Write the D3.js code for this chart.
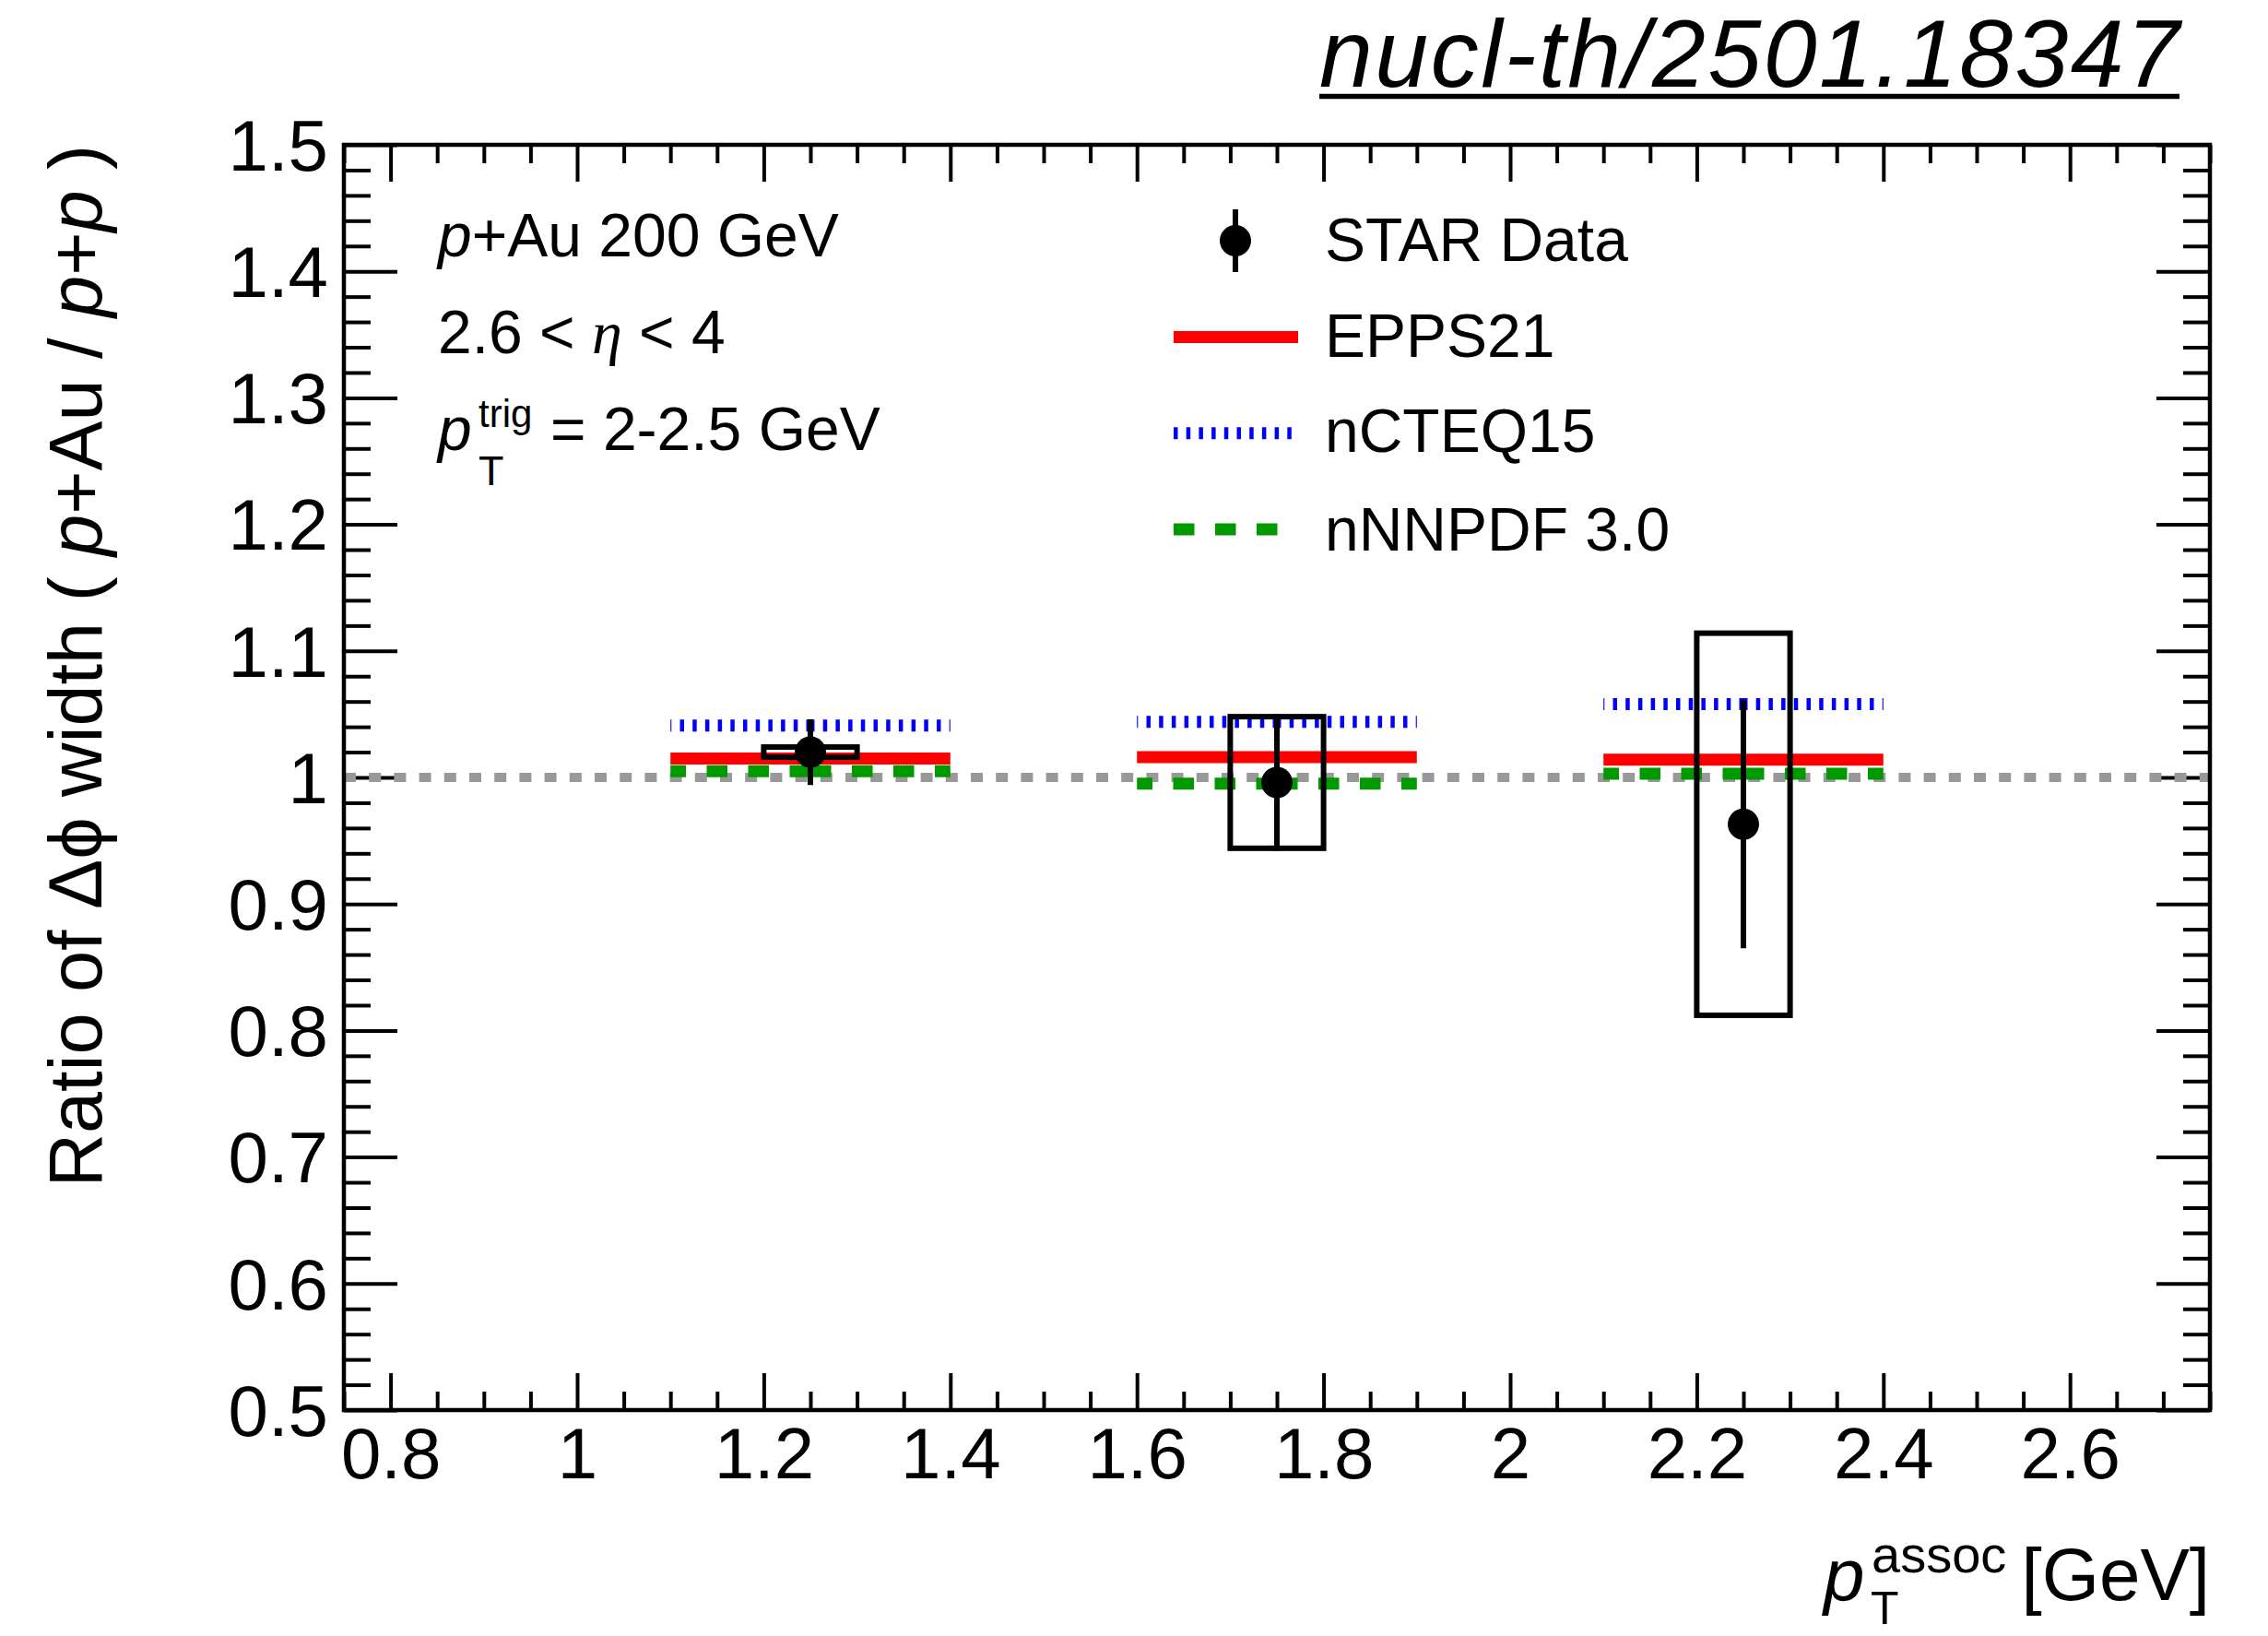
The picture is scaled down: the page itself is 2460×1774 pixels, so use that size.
<!DOCTYPE html>
<html><head><meta charset="utf-8">
<script src="https://cdn.jsdelivr.net/npm/d3@7"></script>
<style>
body{margin:0;background:#fff}
text{font-family:"Liberation Sans",Arial,Helvetica,sans-serif;fill:#000}
</style>
</head><body><svg id="c" width="2460" height="1774"></svg>
<script>
// ---------------- data ----------------
const xCenters   = [1.25, 1.75, 2.25];
const binLo      = [1.10, 1.60, 2.10];
const binHi      = [1.40, 1.90, 2.40];
const starValues = [1.020, 0.996, 0.963];
const statErrors = [0.026, 0.054, 0.098];
const sysErrors  = [0.004, 0.052, 0.151];
const sysHalfWidth = 0.05;
const epps21     = [1.015, 1.016, 1.014];
const ncteq15    = [1.041, 1.044, 1.058];
const nnnpdf30   = [1.005, 0.995, 1.003];
const referenceValue = 1.0;
const xTicks      = [0.8, 1.0, 1.2, 1.4, 1.6, 1.8, 2.0, 2.2, 2.4, 2.6];
const xTickLabels = ["0.8","1","1.2","1.4","1.6","1.8","2","2.2","2.4","2.6"];
const yTicks      = [0.5, 0.6, 0.7, 0.8, 0.9, 1.0, 1.1, 1.2, 1.3, 1.4, 1.5];
const yTickLabels = ["0.5","0.6","0.7","0.8","0.9","1","1.1","1.2","1.3","1.4","1.5"];
const legendLabels = ["STAR Data","EPPS21","nCTEQ15","nNNPDF 3.0"];

// ---------------- layout ----------------
const L=373, R=2397, T=157, B=1529;
const svg = d3.select("#c");
svg.append("rect").attr("width",2460).attr("height",1774).attr("fill","#fff");
const x = d3.scaleLinear().domain([0.75,2.75]).range([L,R]);
const y = d3.scaleLinear().domain([0.5,1.5]).range([B,T]);

const xMinor = d3.range(0,41).map(i=>+(0.75+i*0.05).toFixed(3)).filter(v=>!xTicks.some(t=>Math.abs(t-v)<1e-6));
const yMinor = d3.range(0,51).map(i=>+(0.5+i*0.02).toFixed(3)).filter(v=>!yTicks.some(t=>Math.abs(t-v)<1e-6));

function tickAxis(axisFn, scale, vals, size, tx, ty){
  const g = svg.append("g").attr("transform",`translate(${tx},${ty})`)
    .call(axisFn(scale).tickValues(vals).tickSize(size).tickFormat(""));
  g.select(".domain").remove();
  g.selectAll(".tick line").attr("stroke","#000").attr("stroke-width",4);
}
// bottom / top
tickAxis(d3.axisBottom, x, xTicks, -40, 0, B);
tickAxis(d3.axisBottom, x, xMinor, -20, 0, B);
tickAxis(d3.axisTop, x, xTicks, -40, 0, T);
tickAxis(d3.axisTop, x, xMinor, -20, 0, T);
// left / right
tickAxis(d3.axisLeft, y, yTicks, -58, L, 0);
tickAxis(d3.axisLeft, y, yMinor, -29, L, 0);
tickAxis(d3.axisRight, y, yTicks, -58, R, 0);
tickAxis(d3.axisRight, y, yMinor, -29, R, 0);

// labels
const xl = svg.append("g").attr("transform",`translate(0,${B})`)
  .call(d3.axisBottom(x).tickValues(xTicks).tickSize(0).tickPadding(19).tickFormat((d,i)=>xTickLabels[i]));
xl.select(".domain").remove();
xl.selectAll("text").attr("font-size",78).attr("font-family",'"Liberation Sans",Arial,sans-serif').attr("fill","#000");
const yl = svg.append("g").attr("transform",`translate(${L},0)`)
  .call(d3.axisLeft(y).tickValues(yTicks).tickSize(0).tickPadding(17).tickFormat((d,i)=>yTickLabels[i]));
yl.select(".domain").remove();
yl.selectAll("text").attr("font-size",78).attr("font-family",'"Liberation Sans",Arial,sans-serif').attr("fill","#000").attr("dy","0.35em");

// ---------------- marks ----------------
const plot = svg.append("g");
// reference line
plot.append("line").attr("x1",x(0.75)).attr("x2",x(2.75)).attr("y1",y(referenceValue)).attr("y2",y(referenceValue))
  .attr("stroke","#999").attr("stroke-width",10).attr("stroke-dasharray","13 14.2");

const models = [
  {vals: ncteq15, color:"#0000ff", dash:"4.5 9.2"},
  {vals: epps21,  color:"#ff0000", dash:null},
  {vals: nnnpdf30,color:"#009900", dash:"22.5 22.5"}
];
models.forEach(m=>{
  xCenters.forEach((c,i)=>{
    [binLo[i],binHi[i]].forEach(edge=>{
      const ln = plot.append("line").attr("x1",x(c)).attr("x2",x(edge))
        .attr("y1",y(m.vals[i])).attr("y2",y(m.vals[i]))
        .attr("stroke",m.color).attr("stroke-width",13);
      if(m.dash) ln.attr("stroke-dasharray",m.dash);
    });
  });
});

// sys boxes
plot.selectAll("rect.sys").data(xCenters).enter().append("rect")
  .attr("x",(d)=>x(d-sysHalfWidth)).attr("width",(d)=>x(d+sysHalfWidth)-x(d-sysHalfWidth))
  .attr("y",(d,i)=>y(starValues[i]+sysErrors[i]))
  .attr("height",(d,i)=>y(starValues[i]-sysErrors[i])-y(starValues[i]+sysErrors[i]))
  .attr("fill","none").attr("stroke","#000").attr("stroke-width",6);
// stat bars
plot.selectAll("line.stat").data(xCenters).enter().append("line")
  .attr("x1",d=>x(d)).attr("x2",d=>x(d))
  .attr("y1",(d,i)=>y(starValues[i]+statErrors[i])).attr("y2",(d,i)=>y(starValues[i]-statErrors[i]))
  .attr("stroke","#000").attr("stroke-width",6);
plot.selectAll("circle.pt").data(xCenters).enter().append("circle")
  .attr("cx",d=>x(d)).attr("cy",(d,i)=>y(starValues[i])).attr("r",17).attr("fill","#000");

// frame
svg.append("rect").attr("x",L).attr("y",T).attr("width",R-L).attr("height",B-T)
  .attr("fill","none").attr("stroke","#000").attr("stroke-width",4.5);

// ---------------- legend ----------------
const lg = svg.append("g");
lg.append("line").attr("x1",1340).attr("x2",1340).attr("y1",227).attr("y2",295).attr("stroke","#000").attr("stroke-width",6);
lg.append("circle").attr("cx",1340).attr("cy",261).attr("r",17).attr("fill","#000");
const legY=[365.5,469.7,574];
[models[1],models[0],models[2]].forEach((m,i)=>{
  const ln=lg.append("line").attr("x1",1273).attr("x2",1408).attr("y1",legY[i]).attr("y2",legY[i])
    .attr("stroke",m.color).attr("stroke-width",13);
  if(m.dash) ln.attr("stroke-dasharray",m.dash);
});
const legBase=[283,387,490,597];
legendLabels.forEach((t,i)=>{
  lg.append("text").attr("x",1437).attr("y",legBase[i]).attr("font-size",66).text(t);
});

// ---------------- annotations ----------------
const ann = svg.append("g").attr("font-size",66);
const t1 = ann.append("text").attr("x",475).attr("y",278);
t1.append("tspan").attr("font-style","italic").text("p");
t1.append("tspan").text("+Au 200 GeV");
const t2 = ann.append("text").attr("x",475).attr("y",383);
t2.append("tspan").text("2.6 < ");
t2.append("tspan").attr("font-family",'"Liberation Serif","Times New Roman",serif').attr("font-style","italic").text("η");
t2.append("tspan").text(" < 4");
ann.append("text").attr("x",475).attr("y",488).attr("font-style","italic").text("p");
ann.append("text").attr("x",519).attr("y",463).attr("font-size",42).text("trig");
ann.append("text").attr("x",519).attr("y",526).attr("font-size",45).text("T");
ann.append("text").attr("x",597).attr("y",488).text("= 2-2.5 GeV");

// x title
svg.append("text").attr("x",1978).attr("y",1735).attr("font-size",80).attr("font-style","italic").text("p");
svg.append("text").attr("x",2030).attr("y",1705).attr("font-size",56).text("assoc");
svg.append("text").attr("x",2029).attr("y",1761).attr("font-size",50).text("T");
svg.append("text").attr("x",R).attr("y",1735).attr("font-size",80).attr("text-anchor","end").text("[GeV]");

// y title
const yt = svg.append("text").attr("transform","translate(110,157) rotate(-90)")
  .attr("text-anchor","end").attr("font-size",81);
yt.append("tspan").text("Ratio of Δϕ width ( ");
yt.append("tspan").attr("font-style","italic").text("p");
yt.append("tspan").text("+Au / ");
yt.append("tspan").attr("font-style","italic").text("p");
yt.append("tspan").text("+");
yt.append("tspan").attr("font-style","italic").text("p");
yt.append("tspan").text(" )");

// top-right tag
svg.append("text").attr("x",1431).attr("y",94).attr("font-size",104).attr("font-style","italic")
  .attr("textLength",933).attr("lengthAdjust","spacing").text("nucl-th/2501.18347");
svg.append("line").attr("x1",1431).attr("x2",2364).attr("y1",104.5).attr("y2",104.5).attr("stroke","#000").attr("stroke-width",5.7);
</script></body></html>
